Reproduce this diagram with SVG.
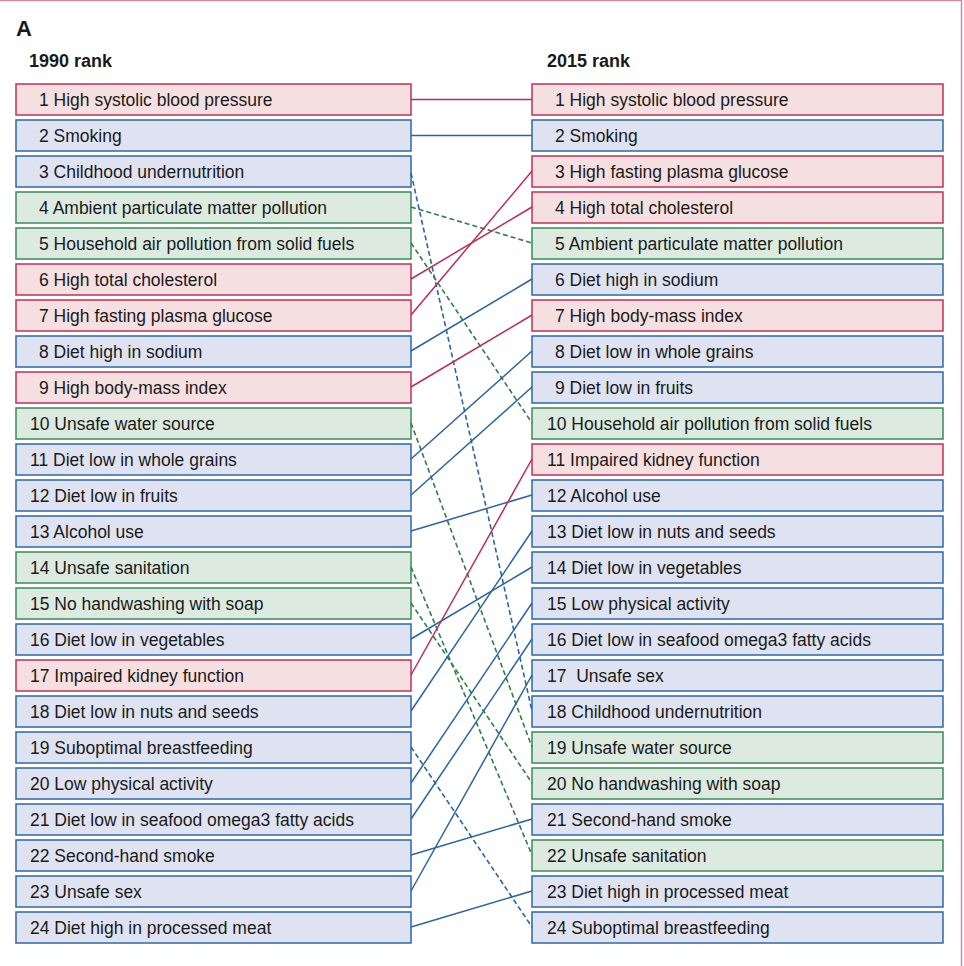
<svg xmlns="http://www.w3.org/2000/svg" width="964" height="966" viewBox="0 0 964 966">
<style>
text{font-family:"Liberation Sans",Arial,sans-serif;fill:#1a1a1a}
.t{font-size:17.5px}
.h{font-size:18px;font-weight:bold}
.r rect{fill:#f5dfe0;stroke:#c0305a;stroke-width:1.5}
.b rect{fill:#dfe3f1;stroke:#2d68a6;stroke-width:1.5}
.g rect{fill:#dceae0;stroke:#3a8a58;stroke-width:1.5}
.cr{stroke:#bd2c58;stroke-width:1.5;fill:none}
.cb{stroke:#2a64a3;stroke-width:1.5;fill:none}
.cbd{stroke:#2a64a3;stroke-width:1.6;fill:none;stroke-dasharray:5 3}
.cgd{stroke:#2e7d4a;stroke-width:1.6;fill:none;stroke-dasharray:5 3}
</style>
<rect x="0" y="0" width="964" height="966" fill="#ffffff"/>
<line x1="0" y1="0.5" x2="961.5" y2="0.5" stroke="#d08aa4" stroke-width="1.5"/>
<line x1="961.5" y1="0" x2="961.5" y2="966" stroke="#d08aa4" stroke-width="1.5"/>
<text x="16" y="36" style="font-size:22px;font-weight:bold">A</text>
<text class="h" x="29" y="67">1990 rank</text>
<text class="h" x="547" y="67">2015 rank</text>

<g id="left">
<g id="l1" class="r"><rect x="16" y="84" width="395" height="31"/><text class="t" x="39" y="106">1 High systolic blood pressure</text></g>
<g id="l2" class="b"><rect x="16" y="120" width="395" height="31"/><text class="t" x="39" y="142">2 Smoking</text></g>
<g id="l3" class="b"><rect x="16" y="156" width="395" height="31"/><text class="t" x="39" y="178">3 Childhood undernutrition</text></g>
<g id="l4" class="g"><rect x="16" y="192" width="395" height="31"/><text class="t" x="39" y="214">4 Ambient particulate matter pollution</text></g>
<g id="l5" class="g"><rect x="16" y="228" width="395" height="31"/><text class="t" x="39" y="250">5 Household air pollution from solid fuels</text></g>
<g id="l6" class="r"><rect x="16" y="264" width="395" height="31"/><text class="t" x="39" y="286">6 High total cholesterol</text></g>
<g id="l7" class="r"><rect x="16" y="300" width="395" height="31"/><text class="t" x="39" y="322">7 High fasting plasma glucose</text></g>
<g id="l8" class="b"><rect x="16" y="336" width="395" height="31"/><text class="t" x="39" y="358">8 Diet high in sodium</text></g>
<g id="l9" class="r"><rect x="16" y="372" width="395" height="31"/><text class="t" x="39" y="394">9 High body-mass index</text></g>
<g id="l10" class="g"><rect x="16" y="408" width="395" height="31"/><text class="t" x="30" y="430">10 Unsafe water source</text></g>
<g id="l11" class="b"><rect x="16" y="444" width="395" height="31"/><text class="t" x="30" y="466">11 Diet low in whole grains</text></g>
<g id="l12" class="b"><rect x="16" y="480" width="395" height="31"/><text class="t" x="30" y="502">12 Diet low in fruits</text></g>
<g id="l13" class="b"><rect x="16" y="516" width="395" height="31"/><text class="t" x="30" y="538">13 Alcohol use</text></g>
<g id="l14" class="g"><rect x="16" y="552" width="395" height="31"/><text class="t" x="30" y="574">14 Unsafe sanitation</text></g>
<g id="l15" class="g"><rect x="16" y="588" width="395" height="31"/><text class="t" x="30" y="610">15 No handwashing with soap</text></g>
<g id="l16" class="b"><rect x="16" y="624" width="395" height="31"/><text class="t" x="30" y="646">16 Diet low in vegetables</text></g>
<g id="l17" class="r"><rect x="16" y="660" width="395" height="31"/><text class="t" x="30" y="682">17 Impaired kidney function</text></g>
<g id="l18" class="b"><rect x="16" y="696" width="395" height="31"/><text class="t" x="30" y="718">18 Diet low in nuts and seeds</text></g>
<g id="l19" class="b"><rect x="16" y="732" width="395" height="31"/><text class="t" x="30" y="754">19 Suboptimal breastfeeding</text></g>
<g id="l20" class="b"><rect x="16" y="768" width="395" height="31"/><text class="t" x="30" y="790">20 Low physical activity</text></g>
<g id="l21" class="b"><rect x="16" y="804" width="395" height="31"/><text class="t" x="30" y="826">21 Diet low in seafood omega3 fatty acids</text></g>
<g id="l22" class="b"><rect x="16" y="840" width="395" height="31"/><text class="t" x="30" y="862">22 Second-hand smoke</text></g>
<g id="l23" class="b"><rect x="16" y="876" width="395" height="31"/><text class="t" x="30" y="898">23 Unsafe sex</text></g>
<g id="l24" class="b"><rect x="16" y="912" width="395" height="31"/><text class="t" x="30" y="934">24 Diet high in processed meat</text></g>
</g>

<g id="right">
<g id="r1" class="r"><rect x="532" y="84" width="411" height="31"/><text class="t" x="555" y="106">1 High systolic blood pressure</text></g>
<g id="r2" class="b"><rect x="532" y="120" width="411" height="31"/><text class="t" x="555" y="142">2 Smoking</text></g>
<g id="r3" class="r"><rect x="532" y="156" width="411" height="31"/><text class="t" x="555" y="178">3 High fasting plasma glucose</text></g>
<g id="r4" class="r"><rect x="532" y="192" width="411" height="31"/><text class="t" x="555" y="214">4 High total cholesterol</text></g>
<g id="r5" class="g"><rect x="532" y="228" width="411" height="31"/><text class="t" x="555" y="250">5 Ambient particulate matter pollution</text></g>
<g id="r6" class="b"><rect x="532" y="264" width="411" height="31"/><text class="t" x="555" y="286">6 Diet high in sodium</text></g>
<g id="r7" class="r"><rect x="532" y="300" width="411" height="31"/><text class="t" x="555" y="322">7 High body-mass index</text></g>
<g id="r8" class="b"><rect x="532" y="336" width="411" height="31"/><text class="t" x="555" y="358">8 Diet low in whole grains</text></g>
<g id="r9" class="b"><rect x="532" y="372" width="411" height="31"/><text class="t" x="555" y="394">9 Diet low in fruits</text></g>
<g id="r10" class="g"><rect x="532" y="408" width="411" height="31"/><text class="t" x="547" y="430">10 Household air pollution from solid fuels</text></g>
<g id="r11" class="r"><rect x="532" y="444" width="411" height="31"/><text class="t" x="547" y="466">11 Impaired kidney function</text></g>
<g id="r12" class="b"><rect x="532" y="480" width="411" height="31"/><text class="t" x="547" y="502">12 Alcohol use</text></g>
<g id="r13" class="b"><rect x="532" y="516" width="411" height="31"/><text class="t" x="547" y="538">13 Diet low in nuts and seeds</text></g>
<g id="r14" class="b"><rect x="532" y="552" width="411" height="31"/><text class="t" x="547" y="574">14 Diet low in vegetables</text></g>
<g id="r15" class="b"><rect x="532" y="588" width="411" height="31"/><text class="t" x="547" y="610">15 Low physical activity</text></g>
<g id="r16" class="b"><rect x="532" y="624" width="411" height="31"/><text class="t" x="547" y="646">16 Diet low in seafood omega3 fatty acids</text></g>
<g id="r17" class="b"><rect x="532" y="660" width="411" height="31"/><text class="t" x="547" y="682" style="white-space:pre">17  Unsafe sex</text></g>
<g id="r18" class="b"><rect x="532" y="696" width="411" height="31"/><text class="t" x="547" y="718">18 Childhood undernutrition</text></g>
<g id="r19" class="g"><rect x="532" y="732" width="411" height="31"/><text class="t" x="547" y="754">19 Unsafe water source</text></g>
<g id="r20" class="g"><rect x="532" y="768" width="411" height="31"/><text class="t" x="547" y="790">20 No handwashing with soap</text></g>
<g id="r21" class="b"><rect x="532" y="804" width="411" height="31"/><text class="t" x="547" y="826">21 Second-hand smoke</text></g>
<g id="r22" class="g"><rect x="532" y="840" width="411" height="31"/><text class="t" x="547" y="862">22 Unsafe sanitation</text></g>
<g id="r23" class="b"><rect x="532" y="876" width="411" height="31"/><text class="t" x="547" y="898">23 Diet high in processed meat</text></g>
<g id="r24" class="b"><rect x="532" y="912" width="411" height="31"/><text class="t" x="547" y="934">24 Suboptimal breastfeeding</text></g>
</g>

<g id="connectors">
<line class="cr" x1="411" y1="99.5" x2="532" y2="99.5"/>
<line class="cb" x1="411" y1="135.5" x2="532" y2="135.5"/>
<line class="cbd" x1="411" y1="173" x2="532" y2="711"/>
<line class="cgd" x1="411" y1="207" x2="532" y2="243"/>
<line class="cgd" x1="411" y1="243" x2="532" y2="423"/>
<line class="cr" x1="411" y1="279" x2="532" y2="207"/>
<line class="cr" x1="411" y1="315" x2="532" y2="171"/>
<line class="cb" x1="411" y1="351" x2="532" y2="279"/>
<line class="cr" x1="411" y1="387" x2="532" y2="315"/>
<line class="cgd" x1="411" y1="423" x2="532" y2="747"/>
<line class="cb" x1="411" y1="459" x2="532" y2="351"/>
<line class="cb" x1="411" y1="495" x2="532" y2="387"/>
<line class="cb" x1="411" y1="531" x2="532" y2="495"/>
<line class="cgd" x1="411" y1="567" x2="532" y2="855"/>
<line class="cgd" x1="411" y1="603" x2="532" y2="783"/>
<line class="cb" x1="411" y1="639" x2="532" y2="567"/>
<line class="cr" x1="411" y1="675" x2="532" y2="459"/>
<line class="cb" x1="411" y1="711" x2="532" y2="531"/>
<line class="cbd" x1="411" y1="747" x2="532" y2="927"/>
<line class="cb" x1="411" y1="783" x2="532" y2="603"/>
<line class="cb" x1="411" y1="819" x2="532" y2="639"/>
<line class="cb" x1="411" y1="855" x2="532" y2="819"/>
<line class="cb" x1="411" y1="891" x2="532" y2="675"/>
<line class="cb" x1="411" y1="927" x2="532" y2="891"/>
</g>
</svg>
